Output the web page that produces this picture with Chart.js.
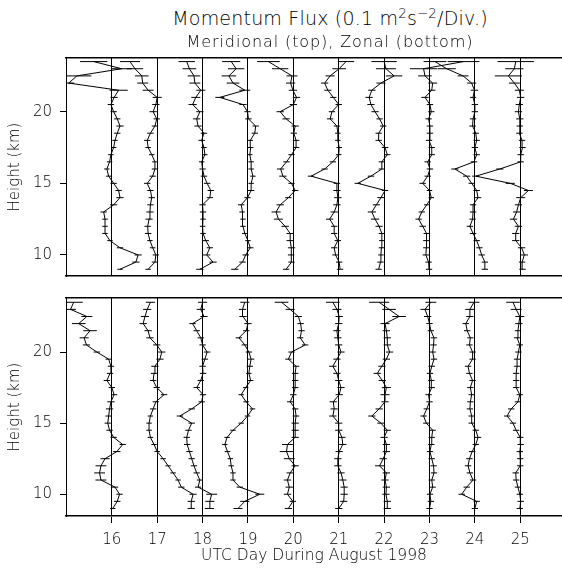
<!DOCTYPE html>
<html><head><meta charset="utf-8">
<script src="https://cdn.jsdelivr.net/npm/chart.js@4.4.1/dist/chart.umd.min.js"></script>
<style>
html,body{margin:0;padding:0;background:#fff;width:562px;height:573px;overflow:hidden;}
#wrap{position:relative;width:562px;height:573px;font-family:"DejaVu Sans",sans-serif;color:#000;font-weight:200;}
canvas{position:absolute;left:0;}
#c1{top:40px;}
#c2{top:285px;}
.t{position:absolute;left:0;width:660px;text-align:center;white-space:nowrap;z-index:2;line-height:1;}
#title{top:9px;font-size:19px;letter-spacing:0.2px;}
#sub{top:34px;font-size:16px;letter-spacing:0.9px;}
sup{font-size:0.7em;vertical-align:0.55em;line-height:0;}
</style></head>
<body><div id="wrap">
<canvas id="c1" width="562" height="250"></canvas>
<canvas id="c2" width="562" height="288"></canvas>
<div class="t" id="title">Momentum Flux (0.1 m<sup>2</sup>s<sup>−2</sup>/Div.)</div>
<div class="t" id="sub">Meridional (top), Zonal (bottom)</div>
</div>
<script>
// Heights of the profile points (km)
const heights = [9.0,9.5,10.0,10.5,11.0,11.5,12.0,12.5,13.0,13.5,14.0,14.5,15.0,15.5,16.0,16.5,17.0,17.5,18.0,18.5,19.0,19.5,20.0,20.5,21.0,21.5,22.0,22.5,23.0,23.5];
// Profile days (UTC day, August 1998) and tick labels
const days = [16,17,18,19,20,21,22,23,24,25];
const xTicks = [16,17,18,19,20,21,22,23,24,25];
const yTicks = [10,15,20];

// Meridional momentum flux, units of 0.1 m^2 s^-2 (one division)
const merid16 = [0.18,0.53,0.58,0.18,-0.04,-0.15,-0.15,-0.15,-0.18,0.04,0.18,0.15,0.04,-0.07,-0.11,-0.05,-0.02,0.04,0.07,0.12,0.18,0.12,0.04,-0.02,0.05,0.15,-0.95,-0.77,0.22,-0.40];
const merid17 = [-0.20,-0.05,-0.03,-0.10,-0.16,-0.20,-0.21,-0.18,-0.16,-0.15,-0.12,-0.15,-0.22,-0.10,-0.05,-0.05,-0.12,-0.20,-0.22,-0.15,-0.05,-0.01,-0.09,-0.03,0.00,-0.20,-0.32,-0.34,-0.49,-0.60];
const merid18 = [-0.06,0.23,0.09,0.16,0.07,0.01,0.00,0.01,0.01,0.00,0.16,0.18,0.10,0.03,0.00,-0.02,0.05,0.03,-0.02,0.03,-0.10,-0.13,-0.06,-0.22,-0.15,-0.04,-0.17,-0.19,-0.29,-0.35];
const merid19 = [-0.29,-0.12,-0.05,0.05,0.00,-0.07,-0.11,-0.11,-0.13,-0.15,-0.01,0.07,0.07,0.11,0.07,0.07,0.04,0.06,0.05,0.15,0.17,0.01,-0.01,-0.11,-0.62,-0.07,-0.33,-0.42,-0.26,-0.37];
const merid20 = [-0.16,-0.04,-0.05,-0.04,-0.07,-0.07,-0.18,-0.33,-0.38,-0.29,-0.11,0.04,-0.04,-0.23,-0.28,-0.15,-0.04,0.06,0.06,0.01,0.04,-0.16,-0.29,0.00,0.07,-0.01,-0.06,-0.03,-0.29,-0.55];
const merid21 = [0.03,0.01,-0.07,-0.10,-0.02,-0.10,-0.10,-0.20,-0.10,-0.04,-0.02,-0.04,-0.04,-0.61,-0.31,-0.13,0.00,0.01,-0.02,-0.02,-0.04,-0.19,-0.15,0.00,-0.12,-0.24,-0.31,-0.19,0.01,0.16];
const merid22 = [-0.12,-0.08,-0.07,-0.06,-0.05,-0.05,-0.11,-0.20,-0.27,-0.17,-0.07,0.02,-0.58,-0.29,-0.05,-0.05,0.07,0.02,-0.12,-0.12,-0.02,-0.10,-0.20,-0.29,-0.33,-0.27,-0.07,0.22,0.04,0.00];
const merid23 = [-0.01,-0.02,-0.08,-0.07,-0.07,-0.06,-0.15,-0.24,-0.17,-0.06,0.04,0.00,-0.15,-0.04,0.01,-0.04,0.05,0.05,-0.01,0.01,0.01,-0.02,0.04,0.01,-0.10,0.05,0.07,-0.10,-0.13,0.75];
const merid24 = [0.22,0.22,0.15,0.10,0.04,-0.04,-0.11,-0.05,-0.04,-0.04,0.07,0.04,-0.07,-0.18,-0.44,-0.02,0.04,0.00,0.04,0.02,-0.05,-0.04,0.00,0.00,-0.04,-0.01,-0.07,-0.26,-0.62,-0.88];
const merid25 = [0.05,0.04,0.09,0.03,-0.10,-0.10,-0.04,-0.15,-0.08,-0.04,0.01,0.18,-0.22,-0.98,-0.45,0.01,0.01,0.05,0.04,-0.02,-0.01,-0.01,-0.04,-0.02,0.01,-0.02,-0.13,-0.26,-0.13,-0.10];

// Meridional error half-widths (same units)
const meridErr16 = [0.06,0.08,0.08,0.07,0.06,0.06,0.06,0.06,0.07,0.08,0.08,0.07,0.07,0.06,0.06,0.06,0.06,0.06,0.06,0.07,0.08,0.07,0.07,0.07,0.08,0.20,0.12,0.32,0.22,0.30];
const meridErr17 = [0.06,0.07,0.07,0.06,0.06,0.07,0.07,0.08,0.08,0.07,0.07,0.07,0.07,0.07,0.07,0.06,0.06,0.06,0.07,0.07,0.07,0.07,0.08,0.08,0.10,0.12,0.12,0.15,0.18,0.22];
const meridErr18 = [0.08,0.08,0.08,0.07,0.07,0.06,0.06,0.06,0.07,0.07,0.07,0.07,0.07,0.07,0.07,0.06,0.06,0.06,0.07,0.07,0.08,0.08,0.08,0.09,0.10,0.10,0.12,0.14,0.15,0.18];
const meridErr19 = [0.08,0.07,0.07,0.07,0.06,0.06,0.06,0.06,0.06,0.07,0.07,0.07,0.06,0.06,0.06,0.06,0.06,0.06,0.06,0.07,0.07,0.07,0.07,0.08,0.10,0.12,0.14,0.16,0.18,0.20];
const meridErr20 = [0.07,0.07,0.07,0.08,0.08,0.08,0.08,0.10,0.10,0.08,0.07,0.07,0.07,0.08,0.08,0.07,0.07,0.07,0.07,0.07,0.08,0.08,0.08,0.08,0.08,0.09,0.10,0.12,0.18,0.25];
const meridErr21 = [0.07,0.07,0.07,0.07,0.07,0.07,0.07,0.08,0.08,0.08,0.08,0.08,0.07,0.07,0.07,0.07,0.06,0.06,0.06,0.06,0.07,0.07,0.07,0.07,0.07,0.08,0.08,0.10,0.15,0.18];
const meridErr22 = [0.07,0.07,0.06,0.06,0.06,0.07,0.08,0.09,0.09,0.08,0.08,0.07,0.07,0.07,0.07,0.07,0.07,0.07,0.07,0.07,0.07,0.07,0.08,0.08,0.08,0.08,0.10,0.18,0.22,0.28];
const meridErr23 = [0.07,0.07,0.07,0.07,0.07,0.07,0.07,0.07,0.07,0.06,0.06,0.06,0.07,0.07,0.07,0.07,0.07,0.07,0.07,0.07,0.07,0.07,0.07,0.07,0.08,0.08,0.10,0.15,0.30,0.35];
const meridErr24 = [0.07,0.07,0.07,0.07,0.07,0.07,0.07,0.07,0.07,0.07,0.07,0.07,0.07,0.08,0.08,0.07,0.07,0.07,0.07,0.07,0.07,0.07,0.07,0.07,0.07,0.08,0.10,0.12,0.20,0.25];
const meridErr25 = [0.07,0.07,0.08,0.08,0.08,0.08,0.08,0.08,0.08,0.08,0.10,0.10,0.10,0.08,0.08,0.07,0.07,0.07,0.07,0.07,0.07,0.08,0.08,0.08,0.08,0.10,0.12,0.30,0.20,0.40];

// Zonal momentum flux, units of 0.1 m^2 s^-2 (one division)
const zonal16 = [0.02,0.12,0.17,0.07,-0.24,-0.27,-0.24,-0.15,0.11,0.24,0.04,-0.05,-0.09,-0.07,-0.05,-0.02,0.05,0.00,-0.11,-0.04,-0.02,-0.07,-0.33,-0.56,-0.61,-0.48,-0.73,-0.55,-0.91,-0.84];
const zonal17 = [0.75,0.75,0.79,0.53,0.46,0.35,0.24,0.13,0.00,-0.07,-0.15,-0.18,-0.18,-0.15,-0.09,-0.03,0.15,-0.01,-0.09,-0.07,-0.05,0.06,0.10,-0.01,-0.16,-0.20,-0.31,-0.27,-0.22,-0.15];
const zonal18 = [0.15,0.16,0.20,-0.10,-0.06,-0.13,-0.19,-0.24,-0.29,-0.34,-0.35,-0.31,-0.24,-0.50,-0.24,-0.02,0.01,-0.13,-0.04,0.01,0.00,0.05,0.10,0.00,-0.04,-0.13,-0.22,0.03,-0.04,0.00];
const zonal19 = [-0.22,-0.07,0.26,-0.18,-0.33,-0.33,-0.37,-0.39,-0.45,-0.51,-0.46,-0.33,-0.15,-0.01,0.10,-0.04,-0.15,-0.05,0.06,0.02,0.04,0.07,0.02,-0.07,-0.20,-0.04,0.00,-0.11,-0.12,-0.07];
const zonal20 = [-0.11,-0.01,-0.13,-0.09,-0.13,-0.07,0.04,-0.09,-0.15,-0.13,0.04,0.04,0.04,0.06,0.04,-0.07,0.00,0.04,0.04,0.04,0.06,-0.11,-0.04,0.26,0.15,0.18,0.16,0.11,-0.07,-0.26];
const zonal21 = [0.00,0.11,0.12,0.12,0.09,0.05,-0.02,-0.02,0.01,0.09,0.07,0.00,0.00,-0.13,-0.10,-0.12,0.01,0.05,0.00,-0.04,-0.13,-0.04,0.05,0.00,-0.02,-0.04,0.00,0.01,-0.04,-0.13];
const zonal22 = [0.07,0.07,0.04,0.05,0.02,0.05,-0.10,-0.02,0.05,0.05,0.00,0.07,-0.07,-0.27,-0.11,0.02,0.02,0.05,-0.04,-0.15,-0.05,0.05,0.12,0.07,0.07,0.05,0.02,0.33,0.11,-0.11];
const zonal23 = [0.00,0.03,0.01,0.07,0.05,0.10,0.09,0.05,0.01,0.04,0.05,0.07,-0.07,-0.13,-0.06,0.00,-0.02,0.05,0.04,0.01,0.05,0.10,0.07,0.09,0.10,0.03,0.00,-0.04,-0.10,0.03];
const zonal24 = [0.00,0.04,-0.29,-0.18,-0.04,-0.11,-0.15,-0.12,-0.06,0.02,0.07,0.02,-0.07,-0.07,-0.11,-0.10,-0.07,-0.10,-0.05,-0.12,-0.15,-0.05,-0.05,-0.12,-0.10,-0.17,-0.20,-0.11,-0.11,-0.02];
const zonal25 = [-0.01,0.01,-0.01,-0.05,-0.09,-0.10,0.00,0.00,-0.01,0.01,0.00,-0.09,-0.16,-0.29,-0.20,-0.05,-0.01,-0.09,-0.09,-0.09,-0.07,-0.07,-0.04,-0.01,-0.07,-0.05,-0.03,-0.01,-0.09,-0.16];

// Zonal error half-widths (same units)
const zonalErr16 = [0.06,0.07,0.07,0.07,0.12,0.12,0.12,0.10,0.08,0.07,0.07,0.07,0.07,0.07,0.08,0.08,0.07,0.07,0.07,0.07,0.07,0.07,0.07,0.08,0.10,0.15,0.15,0.12,0.12,0.20];
const zonalErr17 = [0.08,0.08,0.08,0.07,0.06,0.06,0.06,0.06,0.06,0.06,0.06,0.06,0.06,0.06,0.07,0.07,0.07,0.07,0.07,0.07,0.08,0.08,0.08,0.08,0.08,0.08,0.08,0.09,0.09,0.10];
const zonalErr18 = [0.10,0.10,0.12,0.07,0.07,0.07,0.07,0.07,0.07,0.07,0.07,0.07,0.07,0.07,0.07,0.07,0.07,0.07,0.07,0.07,0.07,0.07,0.07,0.07,0.07,0.07,0.07,0.08,0.09,0.10];
const zonalErr19 = [0.10,0.10,0.10,0.07,0.06,0.06,0.06,0.06,0.06,0.06,0.06,0.06,0.06,0.06,0.06,0.06,0.06,0.06,0.06,0.06,0.07,0.07,0.07,0.07,0.07,0.07,0.08,0.08,0.08,0.10];
const zonalErr20 = [0.08,0.07,0.08,0.08,0.08,0.08,0.08,0.12,0.15,0.12,0.08,0.08,0.08,0.07,0.07,0.07,0.07,0.07,0.07,0.07,0.07,0.07,0.07,0.07,0.07,0.07,0.07,0.08,0.10,0.15];
const zonalErr21 = [0.08,0.08,0.08,0.08,0.08,0.08,0.08,0.08,0.08,0.08,0.08,0.08,0.08,0.08,0.08,0.08,0.08,0.08,0.08,0.08,0.08,0.08,0.08,0.08,0.08,0.08,0.08,0.08,0.10,0.15];
const zonalErr22 = [0.08,0.08,0.08,0.08,0.08,0.08,0.10,0.08,0.08,0.08,0.08,0.08,0.08,0.08,0.08,0.08,0.10,0.10,0.08,0.08,0.08,0.08,0.08,0.08,0.08,0.08,0.10,0.15,0.15,0.22];
const zonalErr23 = [0.07,0.07,0.07,0.07,0.07,0.07,0.07,0.07,0.07,0.07,0.07,0.07,0.07,0.07,0.07,0.07,0.07,0.07,0.07,0.07,0.07,0.07,0.07,0.07,0.07,0.07,0.07,0.08,0.10,0.12];
const zonalErr24 = [0.07,0.07,0.07,0.07,0.07,0.07,0.07,0.07,0.07,0.07,0.07,0.07,0.07,0.07,0.07,0.07,0.07,0.07,0.07,0.07,0.07,0.07,0.07,0.07,0.07,0.07,0.07,0.08,0.10,0.12];
const zonalErr25 = [0.07,0.07,0.07,0.07,0.07,0.07,0.07,0.07,0.07,0.07,0.07,0.07,0.07,0.07,0.07,0.07,0.07,0.07,0.07,0.07,0.07,0.07,0.07,0.07,0.07,0.07,0.08,0.10,0.12,0.15];

const meridional = [merid16,merid17,merid18,merid19,merid20,merid21,merid22,merid23,merid24,merid25];
const meridErrors = [meridErr16,meridErr17,meridErr18,meridErr19,meridErr20,meridErr21,meridErr22,meridErr23,meridErr24,meridErr25];
const zonal = [zonal16,zonal17,zonal18,zonal19,zonal20,zonal21,zonal22,zonal23,zonal24,zonal25];
const zonalErrors = [zonalErr16,zonalErr17,zonalErr18,zonalErr19,zonalErr20,zonalErr21,zonalErr22,zonalErr23,zonalErr24,zonalErr25];

const FONT = '"DejaVu Sans", sans-serif';
const TXT = '#000';
const X_MIN = 14.99, X_MAX = 25.92;

function buildDatasets(values, errors) {
  const ds = [];
  days.forEach((day, k) => {
    const v = values[k], e = errors[k];
    ds.push({
      data: heights.map((h, i) => ({x: day + v[i], y: h})),
      showLine: true, borderColor: '#000', borderWidth: 1, pointRadius: 0, tension: 0
    });
    const seg = [];
    heights.forEach((h, i) => {
      const c = day + v[i];
      seg.push({x: c - e[i], y: h}, {x: c + e[i], y: h}, {x: NaN, y: NaN});
    });
    ds.push({data: seg, showLine: true, spanGaps: false, borderColor: '#000', borderWidth: 1, pointRadius: 0});
  });
  return ds;
}

function makeChart(id, values, errors, yMin, yMax, bottomPanel, pad) {
  const xAxis = {
    type: 'linear', position: 'bottom', min: X_MIN, max: X_MAX,
    afterBuildTicks: s => { s.ticks = xTicks.map(v => ({value: v})); },
    grid: {display: true, drawOnChartArea: true, drawTicks: bottomPanel, tickLength: 7, color: '#000', lineWidth: 1},
    border: {display: true, color: '#000', width: 1.5},
    ticks: {display: bottomPanel, color: TXT, font: {family: FONT, size: 15, weight: '200'}, padding: 8, maxRotation: 0, autoSkip: false},
    title: {display: bottomPanel, text: 'UTC Day During August 1998', color: TXT, font: {family: FONT, size: 15.5, weight: '200'}, padding: {top: 0, bottom: 8}},
    afterFit: s => { s.height = bottomPanel ? 57 : 0; s.paddingLeft = 0; s.paddingRight = 0; }
  };
  new Chart(document.getElementById(id), {
    type: 'scatter',
    data: {datasets: buildDatasets(values, errors)},
    options: {
      responsive: false, animation: false, events: [],
      layout: {padding: pad},
      plugins: {legend: {display: false}, tooltip: {enabled: false}},
      scales: {
        x: xAxis,
        xTop: {
          type: 'linear', position: 'top', min: X_MIN, max: X_MAX,
          ticks: {display: false},
          grid: {display: true, drawOnChartArea: false, drawTicks: false},
          border: {display: true, color: '#000', width: 1.5},
          afterFit: s => { s.height = 0; s.paddingLeft = 0; s.paddingRight = 0; }
        },
        y: {
          type: 'linear', position: 'left', min: yMin, max: yMax,
          afterBuildTicks: s => { s.ticks = yTicks.map(v => ({value: v})); },
          ticks: {color: TXT, font: {family: FONT, size: 15, weight: '200'}, padding: 8},
          grid: {display: true, drawOnChartArea: false, drawTicks: true, tickLength: 6, color: '#000'},
          border: {display: true, color: '#000', width: 1},
          title: {display: true, text: 'Height (km)', color: TXT, font: {family: FONT, size: 15, weight: '200'}, padding: {top: 6, bottom: 0}},
          afterFit: s => { s.width = 66; s.paddingTop = 0; s.paddingBottom = 0; }
        }
      }
    }
  });
}

makeChart('c1', meridional, meridErrors, 8.53, 23.75, false, {top: 18, bottom: 14, left: 0, right: 0});
makeChart('c2', zonal, zonalErrors, 8.47, 23.80, true, {top: 13, bottom: 0, left: 0, right: 0});
</script>
</body></html>
